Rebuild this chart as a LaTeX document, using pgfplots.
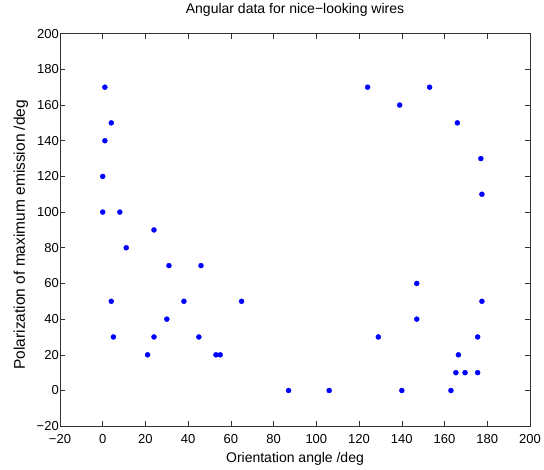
\documentclass[border=0pt]{standalone}
\usepackage{pgfplots}
\pgfplotsset{compat=1.18}
\usepackage{fontspec}
\setmainfont{Liberation Sans}
\begin{document}
\begin{tikzpicture}
\begin{axis}[
  name=ax,
  scale only axis,
  width=470pt, height=392.5pt,
  xmin=-20, xmax=200, ymin=-20, ymax=200,
  xtick={-20,0,...,200}, ytick={-20,0,...,200},
  xticklabels={−20,0,20,40,60,80,100,120,140,160,180,200},
  yticklabels={−20,0,20,40,60,80,100,120,140,160,180,200},
  tick align=inside,
  major tick length=5pt,
  tick style={black!80, line width=0.6pt},
  axis line style={black!80, line width=0.8pt},
  ticklabel style={font=\fontsize{13}{14}\selectfont},
  xticklabel style={inner sep=1pt, anchor=north, yshift=-7pt},
  yticklabel style={inner sep=1pt, anchor=east},
  title={Angular data for nice−looking wires},
  title style={font=\fontsize{14}{15}\selectfont, at={(0.5,1.0362)}, anchor=base},
  xlabel={Orientation angle /deg},
  ylabel={Polarization of maximum emission /deg},
  xlabel style={font=\fontsize{14}{15}\selectfont, at={(0.5,-0.0935)}, anchor=base},
  ylabel style={font=\fontsize{15.5}{16}\selectfont, at={(-0.0745,0.488)}, anchor=base},
]
\addplot[only marks, mark=*, mark size=2.5pt, color=blue, mark options={fill=blue, draw=blue}] coordinates {
(1,170) (4,150) (1,140) (0,120) (0,100) (8,100) (11,80) (24,90)
(31,70) (46,70) (4,50) (38,50) (65,50) (30,40) (5,30) (24,30)
(45,30) (21,20) (53,20) (55,20) (87,0)
(124,170) (153,170) (139,160) (166,150) (177,130) (177.5,110)
(106,0) (140,0) (163,0) (129,30) (147,60) (147,40) (177.5,50)
(175.5,30) (175.5,10) (166.5,20) (165.3,10) (169.6,10)
};
\end{axis}
\path ([shift={(-60pt,-42pt)}]ax.south west) rectangle ([shift={(14pt,32.5pt)}]ax.north east);
\end{tikzpicture}
\end{document}
